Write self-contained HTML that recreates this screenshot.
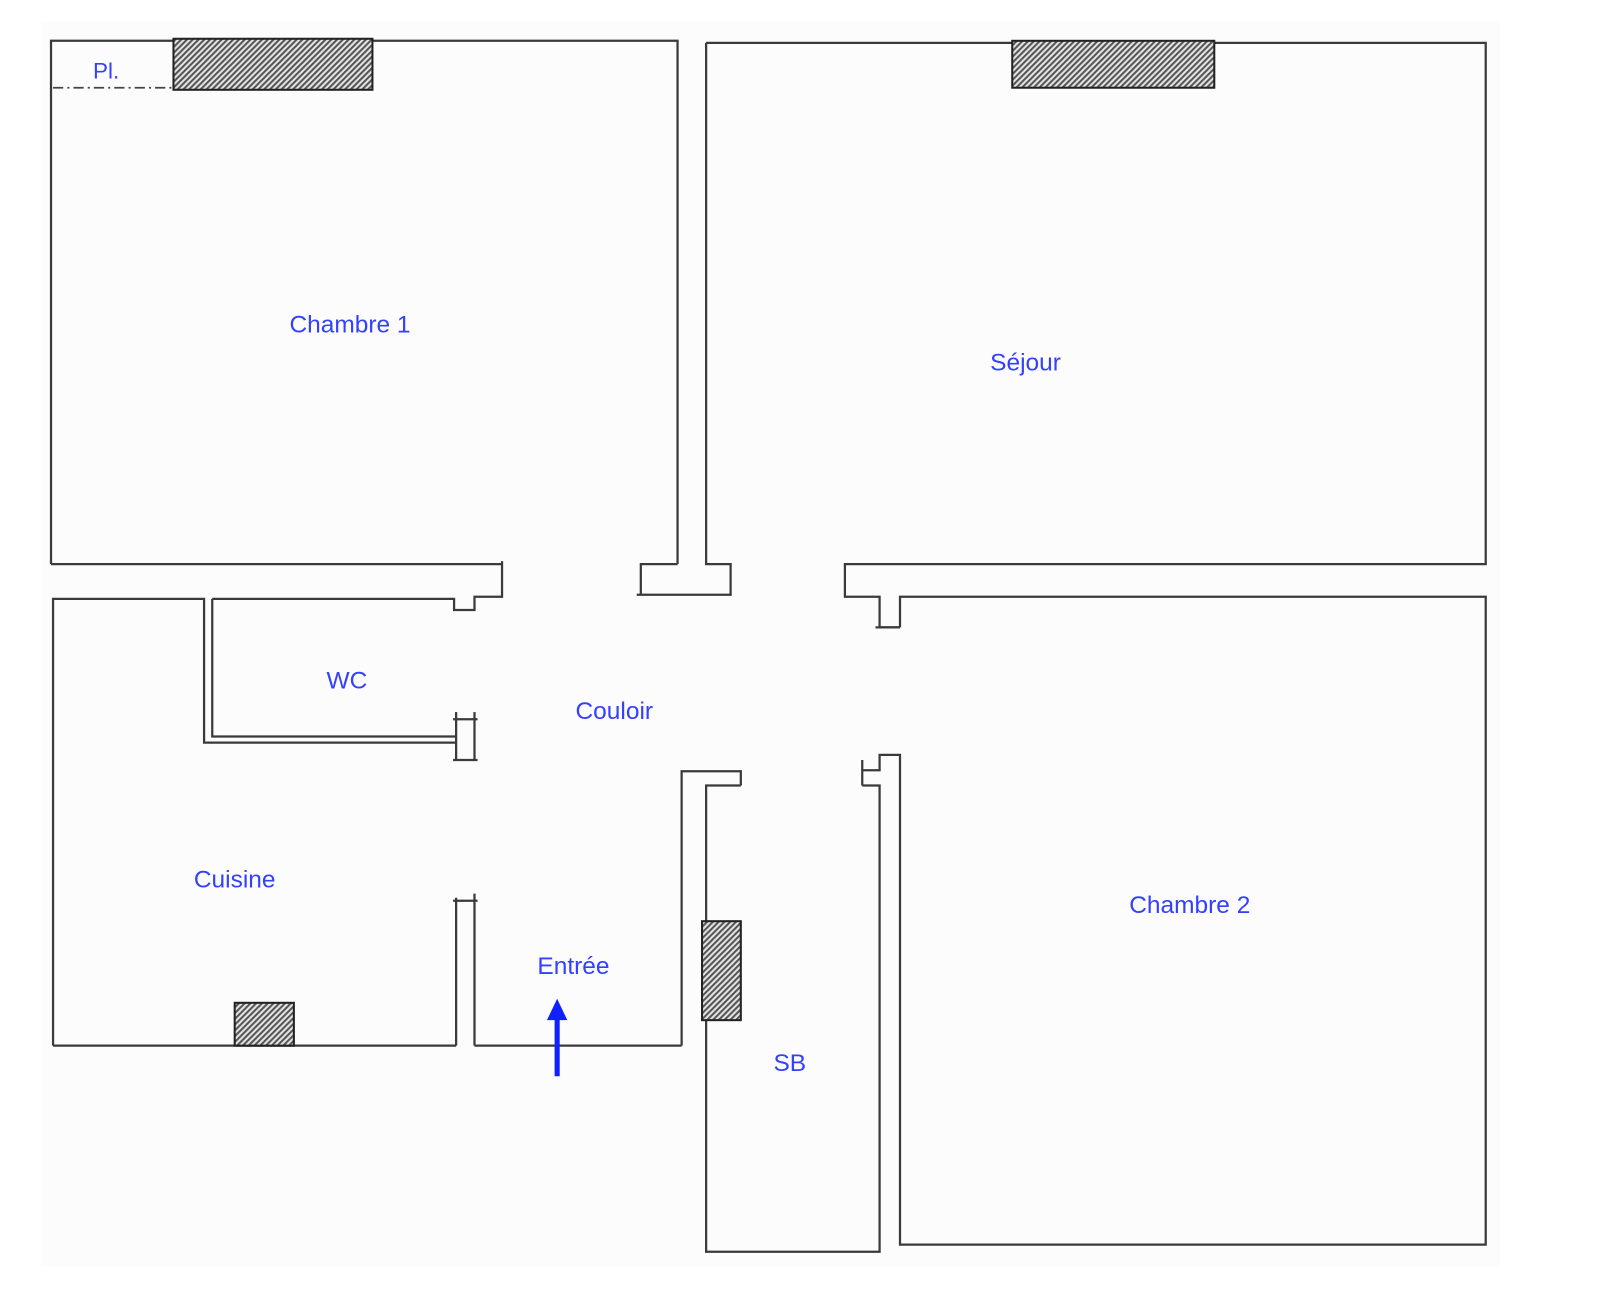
<!DOCTYPE html>
<html><head><meta charset="utf-8"><style>
html,body{margin:0;padding:0;background:#fff;}
svg{display:block;}
text{font-family:"Liberation Sans",sans-serif;font-size:24px;fill:#3340ff;text-anchor:middle;}
</style></head><body>
<svg width="1600" height="1316" viewBox="0 0 1568 1290" preserveAspectRatio="none" xmlns="http://www.w3.org/2000/svg">
<defs>
<pattern id="h" width="4" height="4" patternUnits="userSpaceOnUse" patternTransform="rotate(45)">
<rect width="4" height="4" fill="#e4e4e4"/><rect width="2" height="4" fill="#555"/>
</pattern>
</defs>
<rect x="40" y="20" width="1430" height="1222" fill="#fcfcfc"/>
<g fill="none" stroke="#3a3a3a" stroke-width="2.2">
<polyline points="50,553 50,40 664,40 664,553"/>
<line x1="50" y1="553" x2="492" y2="553"/>
<line x1="492" y1="550" x2="492" y2="586"/>
<polyline points="52,1025 52,587 200,587 200,728 447,728"/>
<polyline points="208,587 208,722 447,722"/>
<polyline points="208,587 445,587 445,598 465,598 465,585 492,585"/>
<polyline points="447,698 447,745"/><polyline points="465,698 465,745"/>
<line x1="444" y1="705" x2="468" y2="705"/><line x1="444" y1="745" x2="468" y2="745"/>
<polyline points="692,42 692,553 716,553 716,583 624,583"/>
<polyline points="664,553 628,553 628,583"/>
<polyline points="692,42 1456,42 1456,553 828,553 828,585 862,585 862,615 882,615"/>
<line x1="858" y1="615" x2="882" y2="615"/>
<polyline points="882,615 882,585 1456,585 1456,1220 882,1220 882,740 862,740 862,755 845,755"/>
<line x1="845" y1="745" x2="845" y2="770"/>
<polyline points="845,770 862,770 862,1227 692,1227 692,770 726,770"/>
<polyline points="668,1025 668,756 726,756 726,770"/>
<line x1="52" y1="1025" x2="447" y2="1025"/>
<line x1="447" y1="880" x2="447" y2="1025"/>
<line x1="465" y1="876" x2="465" y2="1025"/>
<line x1="444" y1="883" x2="468" y2="883"/>
<line x1="465" y1="1025" x2="668" y2="1025"/>
</g>
<line x1="52" y1="86" x2="170" y2="86" stroke="#444" stroke-width="1.8" stroke-dasharray="10,4,2,4"/>
<g stroke="#222" stroke-width="2" fill="url(#h)">
<rect x="170" y="38" width="195" height="50"/>
<rect x="992" y="40" width="198" height="46"/>
<rect x="230" y="983" width="58" height="42"/>
<rect x="688" y="903" width="38" height="97"/>
</g>
<line x1="546" y1="1055" x2="546" y2="995" stroke="#1020ff" stroke-width="5"/>
<polygon points="546,979 536,1000 556,1000" fill="#1020ff"/>
<text x="343" y="326">Chambre 1</text>
<text x="1005" y="363">Séjour</text>
<text x="340" y="675">WC</text>
<text x="602" y="705">Couloir</text>
<text x="230" y="870">Cuisine</text>
<text x="562" y="955">Entrée</text>
<text x="1166" y="895">Chambre 2</text>
<text x="774" y="1050">SB</text>
<text x="104" y="77" style="font-size:22px">Pl.</text>
</svg>
</body></html>
